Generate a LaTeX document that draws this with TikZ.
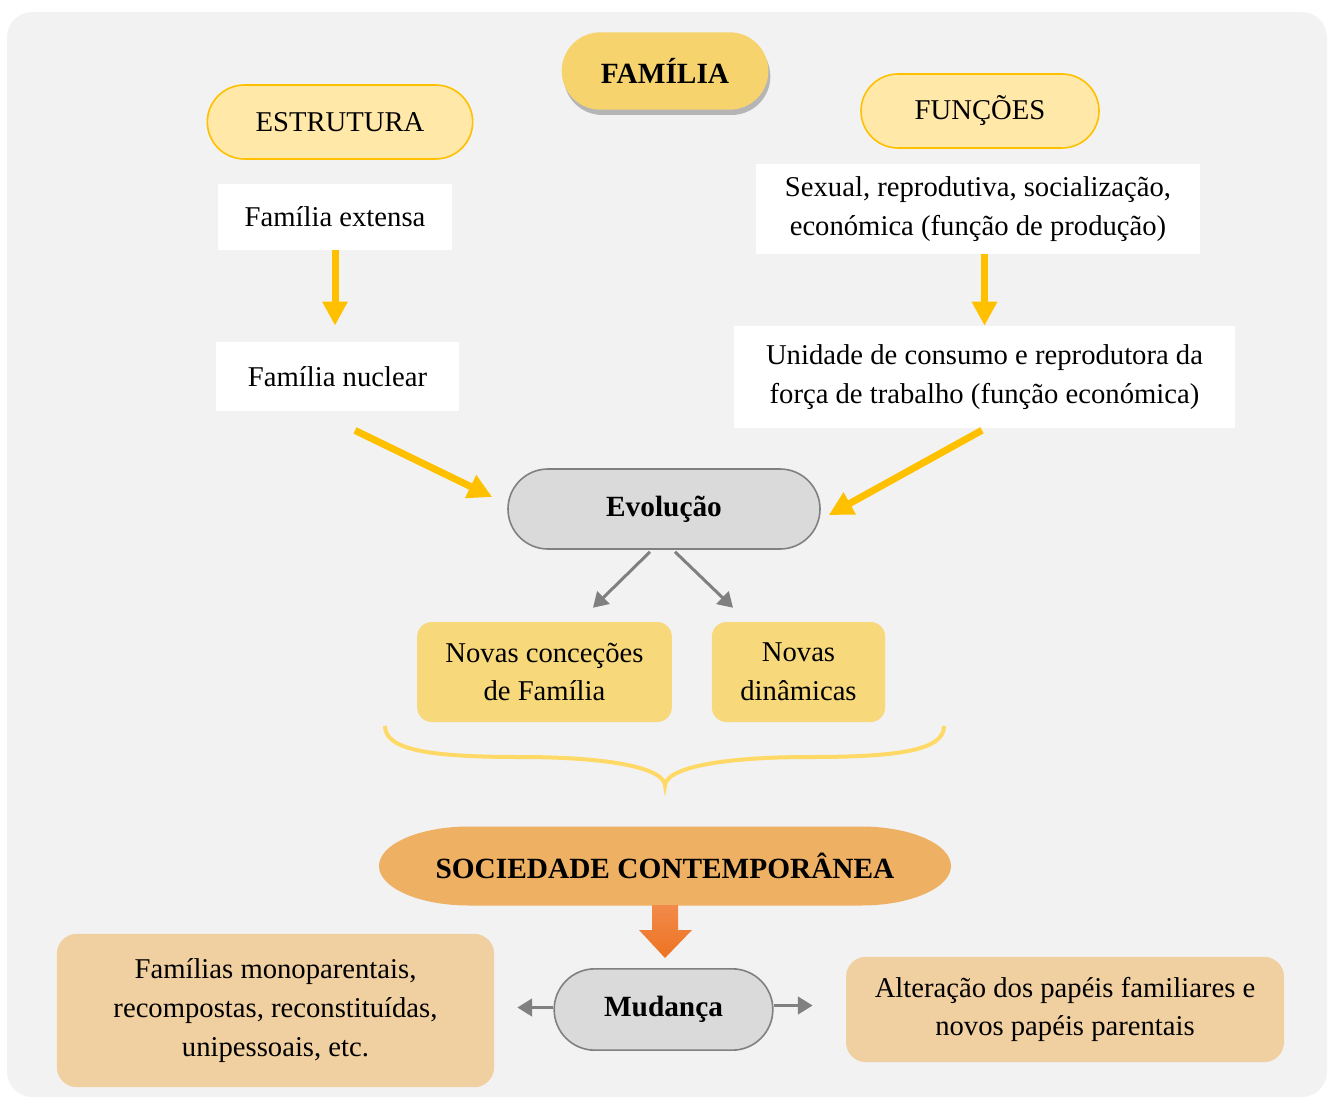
\documentclass[tikz,border=0pt]{standalone}
\usepackage{fontspec}
\setmainfont{Liberation Serif}
\usetikzlibrary{arrows.meta,calc,shadows}

\definecolor{bggrey}{HTML}{F2F2F2}
\definecolor{gold}{HTML}{FFC000}
\definecolor{paleyellow}{HTML}{FFE8A8}
\definecolor{midyellow}{HTML}{F7D87A}
\definecolor{titleyellow}{HTML}{F6D36C}
\definecolor{lightgrey}{HTML}{DADADA}
\definecolor{edgegrey}{HTML}{808080}
\definecolor{sand}{HTML}{EEB062}
\definecolor{peach}{HTML}{F0CFA0}
\definecolor{bracey}{HTML}{FFD966}
\definecolor{orangetop}{HTML}{F28A4A}
\definecolor{orangebot}{HTML}{EC7322}

\begin{document}
\begin{tikzpicture}[
		x=0.75pt, y=-0.75pt,
		font=\fontsize{21.5}{29}\selectfont,
		goldarrow/.style={draw=gold, line width=5.25pt, -{Triangle[width=18pt, length=18pt]}},
		greyarrow/.style={draw=edgegrey, line width=2.25pt, -{Triangle[width=13pt, length=11pt]}},
		pill/.style={align=center, inner sep=0pt, minimum height=55.5pt},
		headpill/.style={pill, fill=paleyellow, draw=gold, line width=1.2pt, rounded corners=27.75pt},
		whitebox/.style={fill=white, align=center, inner sep=0pt},
		greypill/.style={pill, fill=lightgrey, draw=edgegrey, line width=1.2pt, minimum height=60pt, rounded corners=30pt, font=\fontsize{22}{29}\selectfont\bfseries},
		yellowbox/.style={fill=midyellow, align=center, inner sep=0pt, minimum height=75pt, rounded corners=11pt},
		peachbox/.style={fill=peach, align=center, inner sep=0pt, rounded corners=15pt},
	]
		% background
		\useasboundingbox (0,0) rectangle (1330,1098);
		\fill[bggrey, rounded corners=19pt] (7,12) rectangle (1327,1097);

		% top
		\node (familia) at (665,71) [pill, fill=titleyellow, minimum width=155pt, minimum height=58pt, rounded corners=29pt,
			drop shadow={shadow xshift=1.5pt, shadow yshift=-4pt, fill=black, opacity=0.25},
			font=\fontsize{22}{29}\selectfont\bfseries] {FAMÍLIA};
		\node (estrutura) at (340,122) [headpill, minimum width=199pt] {ESTRUTURA};
		\node (funcoes) at (980,111) [headpill, minimum width=178.5pt] {FUNÇÕES};

		\node (extensa) at (335,217) [whitebox, minimum width=175.5pt, minimum height=49.5pt] {Família extensa};
		\node (nuclear) at (337.5,376.5) [whitebox, minimum width=182pt, minimum height=52pt] {Família nuclear};
		\node (sexual) at (978,209) [whitebox, minimum width=333pt, minimum height=67.5pt] {Sexual, reprodutiva, socialização,\\económica (função de produção)};
		\node (unidade) at (984.5,377) [whitebox, minimum width=376pt, minimum height=76.5pt] {Unidade de consumo e reprodutora da\\força de trabalho (função económica)};

		\draw[goldarrow, shorten >=12pt] (extensa.south) -- (extensa.south |- nuclear.north);
		\draw[goldarrow] (sexual.south -| unidade.north) -- (unidade.north);

		% evolution
		\node (evolucao) at (664,509) [greypill, minimum width=234pt] {Evolução};
		\draw[goldarrow] ($(nuclear.south)+(17.5,19)$) -- ($(evolucao.west)+(-15,-12)$);
		\draw[goldarrow] ($(unidade.south)+(-2.5,2)$) -- ($(evolucao.east)+(8,6)$);

		\node (concecoes) at (544.5,672) [yellowbox, minimum width=191pt] {Novas conceções\\de Família};
		\node (dinamicas) at (798.5,672) [yellowbox, minimum width=130pt] {Novas\\dinâmicas};
		\draw[greyarrow] ($(evolucao.south)+(-14,2)$) -- ($(concecoes.north)+(48.5,-14)$);
		\draw[greyarrow] ($(evolucao.south)+(11,2)$) -- ($(dinamicas.north)+(-65.5,-14)$);

		% brace
		\draw[bracey, line width=3pt]
			(385,726) .. controls (385,750) and (430,757) .. (520,757)
			.. controls (610,757) and (665,768) .. (665,786)
			.. controls (665,768) and (720,757) .. (810,757)
			.. controls (900,757) and (944,750) .. (944,726);

		% contemporary society
		\fill[sand] (469,826.5) -- (861,826.5) arc[start angle=-90, end angle=90, x radius=90, y radius=39.5]
			-- (469,905.5) arc[start angle=90, end angle=270, x radius=90, y radius=39.5] -- cycle;
		\node (sociedade) at (665,866) [font=\fontsize{22}{29}\selectfont\bfseries, inner sep=0pt] {SOCIEDADE CONTEMPORÂNEA};

		\shade[top color=orangetop, bottom color=orangebot] (652,905) -- (678,905) -- (678,930) -- (692,930)
			-- (665,958) -- (639,930) -- (652,930) -- cycle;

		% change
		\node (mudanca) at (663.5,1009.5) [greypill, minimum width=164pt, minimum height=61pt, rounded corners=30.5pt] {Mudança};
		\node (tipos) at (275.5,1010.5) [peachbox, minimum width=328pt, minimum height=115pt] {Famílias monoparentais,\\recompostas, reconstituídas,\\unipessoais, etc.};
		\node (papeis) at (1065,1009.5) [peachbox, minimum width=328.5pt, minimum height=79pt] {Alteração dos papéis familiares e\\novos papéis parentais};

		\coordinate (mleft) at ($(mudanca.west)+(-36,-2)$);
		\coordinate (mright) at ($(mudanca.east)+(39,-4)$);
		\draw[greyarrow] ($(mudanca.west)+(0,-2)$) -- (mleft);
		\draw[greyarrow] ($(mudanca.east)+(0,-4)$) -- (mright);
	\end{tikzpicture}
\end{document}
